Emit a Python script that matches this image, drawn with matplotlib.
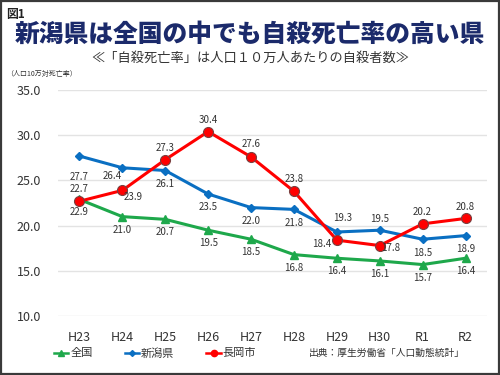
import matplotlib
matplotlib.use("Agg")
import matplotlib.pyplot as plt
from matplotlib.lines import Line2D
from matplotlib.patches import Rectangle

plt.rcParams['font.family'] = ['Noto Sans CJK JP', 'DejaVu Sans']

years = ['H23', 'H24', 'H25', 'H26', 'H27', 'H28', 'H29', 'H30', 'R1', 'R2']
zenkoku = [22.9, 21.0, 20.7, 19.5, 18.5, 16.8, 16.4, 16.1, 15.7, 16.4]
niigata = [27.7, 26.4, 26.1, 23.5, 22.0, 21.8, 19.3, 19.5, 18.5, 18.9]
nagaoka = [22.7, 23.9, 27.3, 30.4, 27.6, 23.8, 18.4, 17.8, 20.2, 20.8]

green = '#1ea84b'
blue = '#0a6fc2'
red = '#ff0000'
navy = '#1b2a6b'
text_gray = '#333333'

fig = plt.figure(figsize=(5, 3.75), dpi=100)
fig.patch.set_facecolor('white')
fig.patches.append(Rectangle((0.002, 0.003), 0.996, 0.994, transform=fig.transFigure,
                             fill=False, edgecolor='#3a3a3a', linewidth=1.6))

fig.text(0.012, 0.978, '図1', fontsize=8.5, fontweight='bold', color='#222222', va='top')
fig.text(0.5, 0.91, '新潟県は全国の中でも自殺死亡率の高い県', fontsize=17.8,
         fontweight='heavy', color=navy, ha='center', va='center')
fig.text(0.5, 0.845, '≪「自殺死亡率」は人口１０万人あたりの自殺者数≫', fontsize=9.5,
         color=text_gray, ha='center', va='center')
fig.text(0.012, 0.803, '（人口10万対死亡率）', fontsize=5, color=text_gray, va='center')

ax = fig.add_axes([0.116, 0.157, 0.858, 0.603])
x = list(range(len(years)))

ax.plot(x, zenkoku, color=green, linewidth=2.2, marker='^', markersize=6,
        markerfacecolor=green, markeredgecolor=green, zorder=3)
ax.plot(x, niigata, color=blue, linewidth=2.2, marker='D', markersize=4.2,
        markerfacecolor=blue, markeredgecolor=blue, zorder=4)
ax.plot(x, nagaoka, color=red, linewidth=2.2, marker='o', markersize=7.2,
        markerfacecolor=red, markeredgecolor='#7a4040', markeredgewidth=0.8, zorder=5)

ax.set_xlim(-0.5, len(years) - 0.5)
ax.set_ylim(10, 35)
ax.set_yticks([10, 15, 20, 25, 30, 35])
ax.set_yticklabels([f'{v:.1f}' for v in [10, 15, 20, 25, 30, 35]])
ax.set_xticks(x)
ax.set_xticklabels(years)
ax.tick_params(axis='both', length=0, labelsize=9, colors=text_gray)
ax.tick_params(axis='x', pad=11)
ax.tick_params(axis='y', pad=12)
ax.grid(axis='y', color='#e3e3e3', linewidth=1)
ax.set_axisbelow(True)
for s in ax.spines.values():
    s.set_visible(False)

# label offsets in pixels (dx, dy), dy positive = up
green_off = [(0, -13)] * 10
blue_off = [(0, -21), (-10, -8), (0, -13), (0, -13), (0, -13), (0, -14),
            (6, 14), (0, 11), (0, -14), (0, -13)]
red_off = [(0, 12), (11, -7), (0, 12), (0, 12), (0, 13), (0, 12),
           (-15, -4), (11, -2), (0, 12), (0, 11)]

for vals, offs in [(zenkoku, green_off), (niigata, blue_off), (nagaoka, red_off)]:
    for i, v in enumerate(vals):
        dx, dy = offs[i]
        ax.annotate(f'{v:.1f}', (i, v), xytext=(dx, dy), textcoords='offset pixels',
                    ha='center', va='center', fontsize=7, color=text_gray, zorder=6)

handles = [
    Line2D([], [], color=green, linewidth=1.8, marker='^', markersize=4.5),
    Line2D([], [], color=blue, linewidth=1.8, marker='D', markersize=3),
    Line2D([], [], color=red, linewidth=1.8, marker='o', markersize=4.5),
]
fig.legend(handles, ['全国', '新潟県', '長岡市'], loc='center left',
           bbox_to_anchor=(0.088, 1 - 353 / 375), ncol=3, frameon=False,
           handlelength=1.3, handletextpad=0.15, columnspacing=2.9,
           prop={'size': 8}, labelcolor=text_gray)

fig.text(0.93, 1 - 353 / 375, '出典：厚生労働省「人口動態統計」', fontsize=7,
         color=text_gray, ha='right', va='center')

fig.savefig('out.png', dpi=100, facecolor='white')
